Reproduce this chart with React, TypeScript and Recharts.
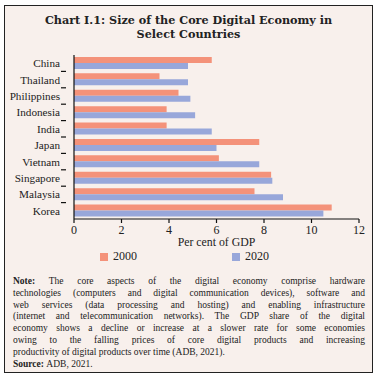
import { BarChart, Bar, XAxis, YAxis, Legend } from 'recharts'

const countries = ['China', 'Thailand', 'Philippines', 'Indonesia', 'India', 'Japan', 'Vietnam', 'Singapore', 'Malaysia', 'Korea']
const share2000 = [5.8, 3.6, 4.4, 3.9, 3.9, 7.8, 6.1, 8.3, 7.6, 10.85]
const share2020 = [4.8, 4.8, 4.9, 5.1, 5.8, 6.0, 7.8, 8.35, 8.8, 10.5]
const xTicks = [0, 2, 4, 6, 8, 10, 12]

const noteLines = [
  'The core aspects of the digital economy comprise hardware',
  'technologies (computers and digital communication devices), software and',
  'web services (data processing and hosting) and enabling infrastructure',
  '(internet and telecommunication networks). The GDP share of the digital',
  'economy shows a decline or increase at a slower rate for some economies',
  'owing to the falling prices of core digital products and increasing',
  'productivity of digital products over time (ADB, 2021).',
]

const FONT = '"Liberation Serif", "Times New Roman", serif'
const TITLE_FONT = '"DejaVu Serif", "Liberation Serif", serif'
const C2000 = '#F4927A'
const C2020 = '#98A7DA'
const BAND = 164 / countries.length

const data = countries.map((country, i) => ({
  country,
  y2000: share2000[i],
  y2020: share2020[i],
}))

// category label plus a tick mark at the lower band boundary
function CountryTick(props: any) {
  const { x, y, payload, index } = props
  const last = index === countries.length - 1
  return (
    <g>
      <text x={x - 6} y={y} dy={4} textAnchor="end" fontSize={11.2} fill="#222" fontFamily={FONT}>
        {payload.value}
      </text>
      {!last && <line x1={x - 5} x2={x} y1={y + BAND / 2} y2={y + BAND / 2} stroke="#111" strokeWidth={1.2} />}
    </g>
  )
}

function LegendRow(props: any) {
  const items = props.payload || []
  const lefts = [100, 232]
  return (
    <div style={{ position: 'relative', height: 14, fontFamily: FONT, fontSize: 12, color: '#222' }}>
      {items.map((it: any, i: number) => (
        <div key={it.value} style={{ position: 'absolute', left: lefts[i], top: 0, display: 'flex', alignItems: 'center', gap: 5 }}>
          <span style={{ display: 'inline-block', width: 8, height: 8, background: it.color }} />
          <span>{it.value}</span>
        </div>
      ))}
    </div>
  )
}

export default function App() {
  return (
    <div style={{ position: 'absolute', left: 0, top: 0, width: 377, height: 377, background: '#fff' }}>
      <div
        style={{
          position: 'absolute',
          left: 4,
          top: 5,
          width: 369,
          height: 368,
          boxSizing: 'border-box',
          border: '1.5px solid #222',
          background: '#F8F0EC',
        }}
      />
      <div
        style={{
          position: 'absolute',
          left: 4,
          top: 13,
          width: 369,
          textAlign: 'center',
          fontFamily: TITLE_FONT,
          fontWeight: 'bold',
          fontSize: 11.2,
          lineHeight: '14px',
          color: '#222',
        }}
      >
        Chart I.1: Size of the Core Digital Economy in
        <br />
        Select Countries
      </div>
      <div style={{ position: 'absolute', left: 0, top: 0 }}>
        <BarChart
          width={377}
          height={263}
          data={data}
          layout="vertical"
          margin={{ top: 55, right: 18, bottom: 0, left: 0 }}
          barCategoryGap="12%"
          barGap={0}
        >
          <XAxis
            type="number"
            domain={[0, 12]}
            ticks={xTicks}
            height={30}
            tickSize={4}
            axisLine={{ stroke: '#111', strokeWidth: 1.2 }}
            tickLine={{ stroke: '#111', strokeWidth: 1.2 }}
            tick={{ fontSize: 12, fill: '#222', fontFamily: FONT }}
            label={{ value: 'Per cent of GDP', position: 'insideBottom', offset: 3, fontSize: 11.8, fill: '#222', fontFamily: FONT }}
          />
          <YAxis
            type="category"
            dataKey="country"
            width={74}
            tickLine={false}
            axisLine={{ stroke: '#111', strokeWidth: 1.2 }}
            tick={<CountryTick />}
            interval={0}
          />
          <Legend verticalAlign="bottom" height={14} wrapperStyle={{ left: 0, width: 377 }} content={<LegendRow />} />
          <Bar dataKey="y2000" name="2000" fill={C2000} isAnimationActive={false} />
          <Bar dataKey="y2020" name="2020" fill={C2020} isAnimationActive={false} />
        </BarChart>
      </div>
      <div
        style={{
          position: 'absolute',
          left: 13,
          top: 276,
          width: 352,
          fontFamily: FONT,
          fontSize: 9.5,
          lineHeight: '11.8px',
          color: '#222',
        }}
      >
        {noteLines.map((line, i) => (
          <div
            key={i}
            style={{ whiteSpace: 'nowrap', textAlign: 'justify', textAlignLast: i < noteLines.length - 1 ? 'justify' : 'left' }}
          >
            {i === 0 && <b>Note: </b>}
            {line}
          </div>
        ))}
        <div>
          <b>Source: </b>ADB, 2021.
        </div>
      </div>
    </div>
  )
}
